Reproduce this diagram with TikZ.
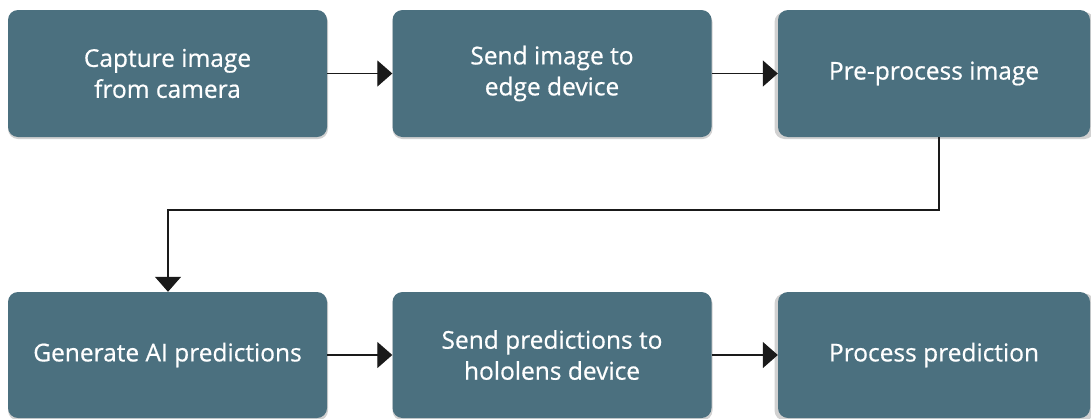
\documentclass[tikz,border=0pt]{standalone}
\usepackage{fontspec}
\newfontfamily\boxfont{Open Sans}[FakeBold=0.6]
\usetikzlibrary{arrows.meta}
\definecolor{boxfill}{HTML}{4B707F}
\definecolor{linecol}{HTML}{1A1A1A}
\tikzset{
  stepbox/.style={rectangle, rounded corners=10pt, fill=boxfill, draw=none,
    minimum width=319pt, minimum height=127pt, inner sep=0pt,
    text=white, align=center, font=\boxfont\fontsize{24.5}{31}\selectfont},
  shadowbox/.style={rectangle, rounded corners=10pt, fill=black, opacity=0.18,
    minimum width=320pt, minimum height=127pt, inner sep=0pt},
  conn/.style={draw=linecol, line width=1.3pt, -{Triangle[length=15pt,width=26pt]}}
}
\begin{document}
\begin{tikzpicture}[x=1pt,y=-1pt]
\useasboundingbox (0,0) rectangle (1091,418);
\fill[white] (0,0) rectangle (1091,418);
% shadows
\foreach \cx/\cy in {167.5/73.5, 552/73.5, 934/73.5, 167.5/355, 552/355, 934/355}{
  \node[shadowbox] at (\cx+0.5,\cy+2) {};
}
\node[stepbox] (a) at (167.5,73.5) {Capture image\\from camera};
\node[stepbox] (b) at (552,73.5) {Send image to\\edge device};
\node[stepbox, minimum width=312pt] (c) at (934,73.5) {Pre-process image};
\node[stepbox, minimum height=126pt] (d) at (167.5,355) {Generate AI predictions};
\node[stepbox, minimum height=126pt] (e) at (552,355) {Send predictions to\\hololens device};
\node[stepbox, minimum width=312pt, minimum height=126pt] (f) at (934,355) {Process prediction};
\coordinate (c1) at (939,210);
\coordinate (c2) at (168,210);
\draw[conn] (a.east) -- (b.west);
\draw[conn] (b.east) -- (c.west);
\draw[conn] (c.south -| c1) -- (c1) -- (c2) -- (c2 |- d.north);
\draw[conn] (d.east) -- (e.west);
\draw[conn] (e.east) -- (f.west);
\end{tikzpicture}
\end{document}
